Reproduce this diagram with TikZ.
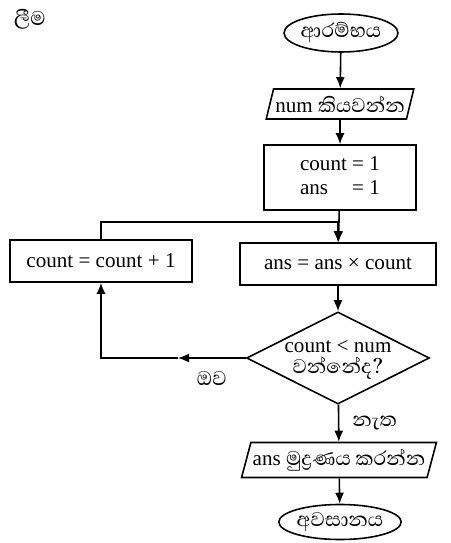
\documentclass[tikz,border=0pt]{standalone}
\usepackage{fontspec}
\setmainfont{Liberation Serif}
\newfontfamily\sinhala[Script=Sinhala,Scale=1.2]{Abhaya Libre}
\usetikzlibrary{shapes.geometric,arrows.meta}

\begin{document}
\begin{tikzpicture}[font=\large, line width=0.9pt,
    arr/.style={-{Latex[length=2.2mm,width=1.8mm]}},
    term/.style={ellipse, draw, inner sep=0pt},
    io/.style={trapezium, draw, trapezium left angle=70, trapezium right angle=110,
      trapezium stretches=true, inner sep=1pt},
    proc/.style={rectangle, draw},
    cond/.style={diamond, draw, aspect=2, inner sep=-5pt}]
        \useasboundingbox (0,0) rectangle (9,-10.86);

          \node[anchor=north west] (title) at (0.15,-0.05) {\sinhala ලීම};

          \node[term, minimum width=2.16cm, minimum height=0.76cm] (start) at (6.82,-0.66) {\sinhala ආරම්භය};
          \node[io, minimum width=2.9cm, minimum height=0.6cm] (read) at (6.8,-2.08) {num \sinhala කියවන්න};
          \node[proc, minimum width=3.04cm, minimum height=1.3cm] (init) at (6.8,-3.55)
            {\begin{tabular}{@{}l@{ = }l@{}}count & 1\\ ans & 1\end{tabular}};
          \node[proc, minimum width=3.92cm, minimum height=0.84cm] (body) at (6.76,-5.28) {ans = ans × count};
          \node[proc, minimum width=3.64cm, minimum height=0.84cm] (incr) at (2.02,-5.22) {count = count + 1};
          \node[cond, minimum width=3.66cm, minimum height=1.84cm] (test) at (6.76,-7.16)
            {\begin{tabular}{@{}c@{}}count < num\\[-2pt] \sinhala වන්නේද?\end{tabular}};
          \node[io, minimum width=3.7cm, minimum height=0.7cm] (print) at (6.78,-9.2) {ans \sinhala මුද්‍රණය කරන්න};
          \node[term, minimum width=2.0cm, minimum height=0.7cm] (stop) at (6.8,-10.44) {\sinhala අවසානය};

          \coordinate (yesmid) at (3.56,-7.16);
          \coordinate (turn) at (incr.south |- test.west);
          \coordinate (back) at (2.02,-4.44);

          \draw[arr] (start) -- (read);
          \draw[arr] (read) -- (init);
          \draw[arr] (init) -- (body);
          \draw[arr] (body) -- (test);
          \draw[arr] (test) -- (print) node[midway, right, xshift=4pt] {\sinhala නැත};
          \draw[arr] (print) -- (stop);

          \draw[arr] (test.west) -- (yesmid) node[midway, below=4pt] {\sinhala ඔව};
          \draw[arr] (yesmid) -- (turn) -- (incr.south);
          \draw[arr] (incr.north) -- (back) -| (body.north);
        \end{tikzpicture}
\end{document}
